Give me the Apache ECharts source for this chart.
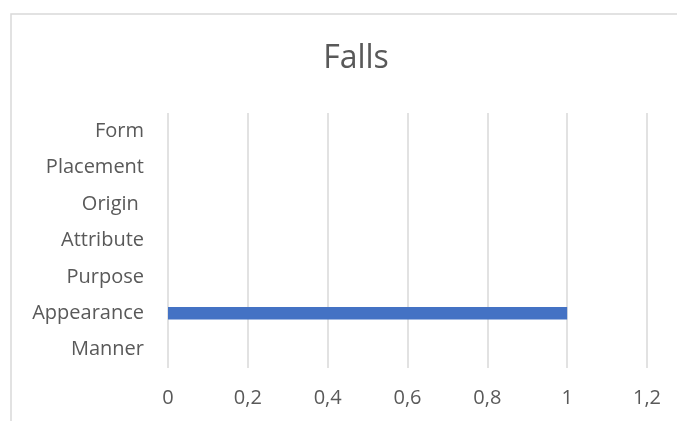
<!DOCTYPE html>
<html><head><meta charset="utf-8">
<script src="https://cdn.jsdelivr.net/npm/echarts@6/dist/echarts.min.js"></script>
<style>html,body{margin:0;padding:0;background:#fff}#c{width:677px;height:421px}</style>
</head><body><div id="c"></div>
<script>
const categories = ['Manner', 'Appearance', 'Purpose', 'Attribute', 'Origin ', 'Placement', 'Form'];
const values = [0, 1, 0, 0, 0, 0, 0];
const titleText = 'Falls';
const xMin = 0, xMax = 1.2, xStep = 0.2;

const chart = echarts.init(document.getElementById('c'));
const font = '"Open Sans", sans-serif';
chart.setOption({
  animation: false,
  title: { text: titleText, left: 351, top: 38, textAlign: 'center',
    textStyle: { fontFamily: font, fontSize: 32, fontWeight: 'normal', color: '#595959' } },
  graphic: [{ type: 'rect', shape: { x: 11, y: 14, width: 700, height: 450 },
    style: { fill: 'none', stroke: '#d9d9d9', lineWidth: 1.5 }, silent: true }],
  grid: { left: 168, right: 30, top: 113, bottom: 53, containLabel: false },
  xAxis: { type: 'value', min: xMin, max: xMax, interval: xStep,
    axisLine: { show: false }, axisTick: { show: false },
    splitLine: { lineStyle: { color: '#d9d9d9', width: 1.5 } },
    axisLabel: { fontFamily: font, fontSize: 20, color: '#595959', margin: 20,
      formatter: v => String(Math.round(v * 10) / 10).replace('.', ',') } },
  yAxis: { type: 'category', data: categories,
    axisLine: { show: false }, axisTick: { show: false },
    axisLabel: { fontFamily: font, fontSize: 20, color: '#595959', margin: 24 } },
  series: [{ type: 'bar', data: values, barWidth: 12.5, itemStyle: { color: '#4472C4' } }]
});
</script></body></html>
